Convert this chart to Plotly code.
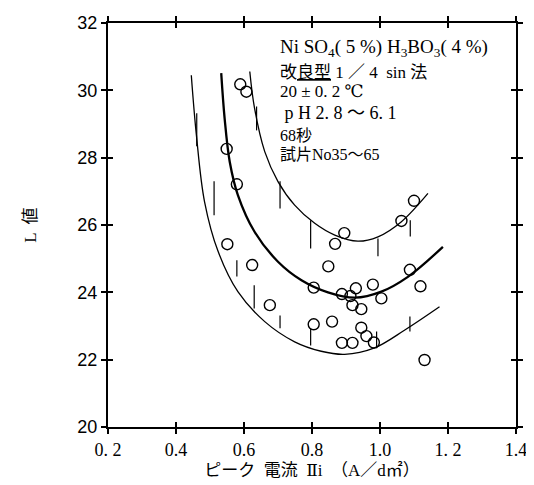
import plotly.graph_objects as go

# observed data points
pt_x = [0.589, 0.607, 0.549, 0.579, 0.551, 0.624, 0.676, 0.805, 0.859, 0.805,
        0.848, 0.868, 0.895, 0.888, 0.929, 0.913, 0.979, 1.004, 0.919, 0.945,
        0.945, 0.960, 0.888, 0.919, 0.982, 1.088, 1.119, 1.063, 1.100, 1.131]
pt_y = [30.18, 29.96, 28.26, 27.21, 25.43, 24.81, 23.62, 23.05, 23.13, 24.14,
        24.77, 25.44, 25.76, 23.95, 24.12, 23.89, 24.23, 23.82, 23.62, 23.50,
        22.95, 22.70, 22.50, 22.50, 22.51, 24.67, 24.18, 26.12, 26.72, 21.99]

# upper curve
up_x = [0.617, 0.631, 0.661, 0.700, 0.749, 0.808, 0.867, 0.935, 0.994, 1.063, 1.141]
up_y = [30.56, 29.47, 28.18, 27.29, 26.59, 26.05, 25.70, 25.52, 25.65, 26.10, 26.94]
# middle curve (mean)
mid_x = [0.533, 0.543, 0.558, 0.582, 0.631, 0.700, 0.769, 0.847, 0.926, 1.004, 1.082, 1.185]
mid_y = [30.51, 29.17, 27.88, 26.89, 25.80, 24.91, 24.36, 24.00, 23.84, 24.02, 24.46, 25.35]
# lower curve
lo_x = [0.445, 0.460, 0.484, 0.524, 0.582, 0.661, 0.749, 0.827, 0.896, 0.984, 1.073, 1.175]
lo_y = [30.45, 28.67, 26.69, 25.21, 24.02, 23.13, 22.53, 22.25, 22.16, 22.35, 22.88, 23.57]

# vertical range segments
seg_x = [0.461, 0.512, 0.579, 0.630, 0.706, 0.796, 0.637, 0.706, 0.796, 0.994, 1.089, 0.990, 1.088]
seg_y0 = [29.32, 27.30, 24.95, 24.21, 23.31, 22.93, 29.52, 27.30, 26.14, 25.60, 26.14, 22.84, 23.28]
seg_y1 = [28.34, 26.29, 24.47, 23.52, 22.93, 22.42, 28.81, 26.49, 25.30, 25.07, 25.66, 22.34, 22.84]

x_tickvals = [0.2, 0.4, 0.6, 0.8, 1.0, 1.2, 1.4]
x_ticktext = ["0. 2", "0.4", "0.6", "0.8", "1.0", "1. 2", "1.4"]
y_tickvals = [20, 22, 24, 26, 28, 30, 32]

notes = [
    "Ni SO<sub>4</sub>( 5 %) H<sub>3</sub>BO<sub>3</sub>( 4 %)",
    "改<u>良型</u> 1 ／ 4  sin 法",
    "20 ± 0. 2 ℃",
    " p H 2. 8 ～ 6. 1",
    "68秒",
    "試片No35～65",
]
note_y = [31.26, 30.54, 29.96, 29.32, 28.67, 28.08]
note_size = [19, 17, 17, 18, 16, 16]

SERIF = "Liberation Serif, DejaVu Serif, Noto Sans CJK JP"
SANS = "Liberation Sans, Arial, sans-serif"

fig = go.Figure()

for x, a, b in zip(seg_x, seg_y0, seg_y1):
    fig.add_trace(go.Scatter(x=[x, x], y=[a, b], mode="lines",
                             line=dict(color="black", width=1.2),
                             showlegend=False, hoverinfo="skip"))

fig.add_trace(go.Scatter(x=up_x, y=up_y, mode="lines",
                         line=dict(color="black", width=1.3, shape="spline"),
                         showlegend=False))
fig.add_trace(go.Scatter(x=mid_x, y=mid_y, mode="lines",
                         line=dict(color="black", width=2.3, shape="spline"),
                         showlegend=False))
fig.add_trace(go.Scatter(x=lo_x, y=lo_y, mode="lines",
                         line=dict(color="black", width=1.3, shape="spline"),
                         showlegend=False))
fig.add_trace(go.Scatter(x=pt_x, y=pt_y, mode="markers",
                         marker=dict(symbol="circle-open", size=11,
                                     color="black", line=dict(width=1.4)),
                         showlegend=False))
# invisible trace to host the inner-tick overlay axes
fig.add_trace(go.Scatter(x=[0.2], y=[20], xaxis="x2", yaxis="y2",
                         mode="markers", marker=dict(opacity=0),
                         showlegend=False, hoverinfo="skip"))

for t, y, s in zip(notes, note_y, note_size):
    fig.add_annotation(x=0.7, y=y, xref="x", yref="y", text=t,
                       showarrow=False, xanchor="left", yanchor="middle",
                       font=dict(family=SERIF, size=s, color="black"))

fig.update_layout(
    width=534, height=485,
    margin=dict(l=100, r=26, t=15, b=66, autoexpand=False),
    paper_bgcolor="white", plot_bgcolor="white",
    xaxis=dict(range=[0.2, 1.4], tickvals=x_tickvals, ticktext=x_ticktext,
               automargin=False,
               showgrid=False, zeroline=False, showline=True, linewidth=2,
               linecolor="black", mirror="ticks", ticks="outside", ticklen=5,
               tickwidth=1.5, tickcolor="black",
               tickfont=dict(family=SERIF, size=18, color="black"),
               title=dict(text="ピーク  電流  Ⅱi  （A／d㎡）", standoff=6,
                          font=dict(family=SERIF, size=17, color="black"))),
    yaxis=dict(range=[20, 32], tickvals=y_tickvals, automargin=False,
               showgrid=False, zeroline=False, showline=True, linewidth=2,
               linecolor="black", mirror="ticks", ticks="outside", ticklen=5,
               tickwidth=1.5, tickcolor="black",
               tickfont=dict(family=SANS, size=18, color="black"),
               title=dict(text="L  値", standoff=36,
                          font=dict(family=SERIF, size=17, color="black"))),
    xaxis2=dict(range=[0.2, 1.4], tickvals=x_tickvals, overlaying="x",
                automargin=False,
                showticklabels=False, showgrid=False, zeroline=False,
                showline=False, mirror="ticks", ticks="inside", ticklen=5,
                tickwidth=1.5, tickcolor="black"),
    yaxis2=dict(range=[20, 32], tickvals=y_tickvals, overlaying="y",
                automargin=False,
                showticklabels=False, showgrid=False, zeroline=False,
                showline=False, mirror="ticks", ticks="inside", ticklen=5,
                tickwidth=1.5, tickcolor="black"),
)

fig.write_html("out.html")
